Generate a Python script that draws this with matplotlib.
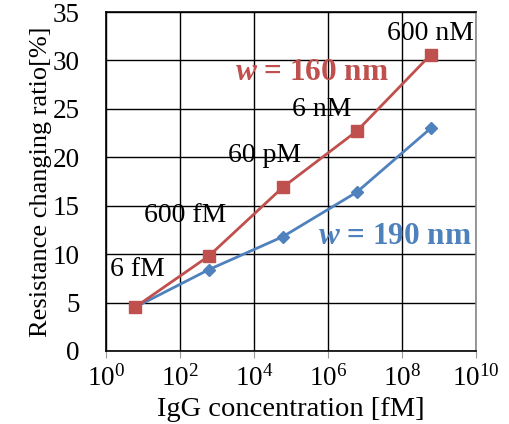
import numpy as np
import matplotlib
matplotlib.use("Agg")
import matplotlib.pyplot as plt

plt.rcParams['font.family'] = ['Liberation Serif', 'DejaVu Serif']
plt.rcParams['mathtext.fontset'] = 'custom'
plt.rcParams['mathtext.rm'] = 'Liberation Serif'
plt.rcParams['mathtext.it'] = 'Liberation Serif:italic:bold'
plt.rcParams['mathtext.bf'] = 'Liberation Serif:bold'

conc = [6, 600, 6e4, 6e6, 6e8]
conc_labels = ['6 fM', '600 fM', '60 pM', '6 nM', '600 nM']
ratio_160 = [4.5, 9.8, 16.9, 22.7, 30.6]
ratio_190 = [4.5, 8.4, 11.8, 16.4, 23.0]

red = '#C0504D'
blue = '#4F81BD'

fig = plt.figure(figsize=(5.09, 4.24), dpi=100)
ax = fig.add_axes([106/509, 1 - 351/424, 370/509, 339/424])

ax.plot(conc, ratio_190, color=blue, lw=2, marker='D', ms=6, zorder=3)
ax.plot(conc, ratio_160, color=red, lw=2, marker='s', ms=8, zorder=4)

ax.set_xscale('log')
ax.set_xlim(1, 1e10)
ax.set_ylim(0, 35)
ax.set_xticks([1, 1e2, 1e4, 1e6, 1e8, 1e10])
ax.xaxis.set_minor_locator(matplotlib.ticker.NullLocator())
ax.set_yticks(range(0, 36, 5))
ax.grid(True, color='black', lw=1)
ax.set_axisbelow(True)
for s in ax.spines.values():
    s.set_color('black')
    s.set_linewidth(1.2)
ax.spines['right'].set_color('#888888')
ax.tick_params(axis='x', length=5, color='#999999', labelsize=19.5, pad=5)
ax.tick_params(axis='y', length=0, labelsize=19.5, pad=19)

ax.set_xlabel('IgG concentration [fM]', fontsize=20.5, labelpad=4)
ax.set_ylabel('Resistance changing ratio[%]', fontsize=19, labelpad=0)

# concentration labels
label_pos = [(137, 270), (185, 216), (265, 155), (322, 110), (430, 33)]
for lab, (px, py) in zip(conc_labels, label_pos):
    fig.text(px/509, 1 - py/424, lab, fontsize=20, ha='center', va='center')

fig.text(312/509, 1 - 73/424, r'$w$ = 160 nm', fontsize=22.5, fontweight='bold',
         color=red, ha='center', va='center')
fig.text(395/509, 1 - 237/424, r'$w$ = 190 nm', fontsize=22.5, fontweight='bold',
         color=blue, ha='center', va='center')

fig.savefig('out.png', dpi=100)
